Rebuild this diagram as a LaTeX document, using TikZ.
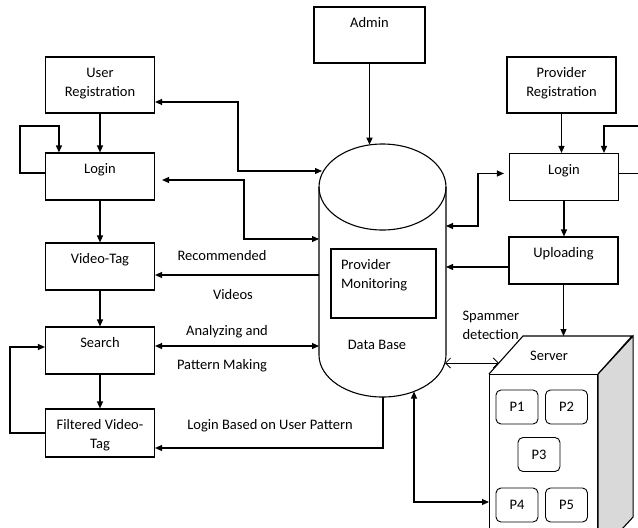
\documentclass[tikz,border=0pt]{standalone}
\usepackage{fontspec}
\setmainfont{Carlito}
\usetikzlibrary{arrows.meta,calc}

\begin{document}
\begin{tikzpicture}[x=1pt,y=-1pt,
font=\fontsize{14.5}{19}\selectfont,
line width=1.1pt,
box/.style={draw,minimum width=109pt,inner xsep=0pt,inner ysep=0pt,align=center,text height=20.5pt,text depth=26.5pt},
tbox/.style={box,text height=39.5pt,text depth=16.5pt},
txt/.style={anchor=base,inner sep=0pt},
proc/.style={draw,rounded corners=5pt,minimum width=42pt,minimum height=34pt,line width=0.9pt},
arr/.style={-{Triangle[length=7pt,width=6pt]}},
dbl/.style={{Triangle[length=7pt,width=6pt]}-{Triangle[length=7pt,width=6pt]}},
spam/.style={line width=0.8pt,{Straight Barb[length=5pt,width=10pt]}-{Straight Barb[length=5pt,width=10pt]}}]
\useasboundingbox (0,0) rectangle (638,528);

% user side
\node[tbox] (ureg) at (100,85) {User\\Registration};
\node[box] (ulogin) at (100,176.5) {Login};
\node[box] (vtag) at (100,266.5) {Video-Tag};
\node[box] (search) at (100,350.5) {Search};
\node[box,text height=39pt,text depth=9pt] (filt) at (100,433) {Filtered Video-\\Tag};

% admin and provider side
\node[box,minimum width=111pt,text depth=35.5pt] (admin) at (369.5,35) {Admin};
\node[tbox] (preg) at (561.5,85) {Provider\\Registration};
\node[box] (plogin) at (564,177) {Login};
\node[box] (upload) at (563.5,260.5) {Uploading};

% data base
\draw (319,187) -- (319,355) arc[start angle=180,end angle=360,x radius=63.5pt,y radius=42pt] -- (446,187);
\draw (382.5,187) ellipse [x radius=63.5pt,y radius=43pt];
\node[draw,align=left,text width=85pt,inner xsep=10pt,inner ysep=0pt,text height=20.5pt,text depth=48.5pt] (pmon) at (383.5,283.5) {Provider\\Monitoring};
\node[txt] (dbt) at (377,349) {Data Base};
\coordinate (dbT) at (369.5,144.7);
\coordinate (dbL1) at (322,171);
\coordinate (dbL2) at (319,239);
\coordinate (dbL3) at (319,275);
\coordinate (dbL4) at (319,346);
\coordinate (dbR1) at (446,226);
\coordinate (dbR2) at (446,267);
\coordinate (dbR3) at (445,363);
\coordinate (dbB1) at (383,397);
\coordinate (dbB2) at (414,391.5);

% server
\node[draw,fill=white,minimum width=108pt,minimum height=180pt,anchor=north west,inner sep=0pt] (server) at (489,374) {};
\draw (server.north west) -- ++(34,-38) -- ++(109,0) -- (server.north east);
\draw[fill=gray!30] (server.north east) -- ++(35,-38) -- ++(0,181) -- ++(-35,38) -- cycle;
\node[txt] (srvt) at (549,360) {Server};
\coordinate (srvtop) at (560,336);
\coordinate (srvL) at (498.8,363);
\node[proc] (p1) at (517,407) {P1};
\node[proc] (p2) at (566.5,407) {P2};
\node[proc] (p3) at (539,454.5) {P3};
\node[proc] (p4) at (517,505) {P4};
\node[proc] (p5) at (566.5,505) {P5};

% labels
\node[txt] (rec) at (222,260) {Recommended};
\node[txt] (vid) at (233,299) {Videos};
\node[txt] (ana) at (227,335) {Analyzing and};
\node[txt] (pat) at (222,369) {Pattern Making};
\node[txt] (lbp) at (270,429) {Login Based on User Pattern};
\node[txt,align=left,anchor=north west] (spamt) at (462,311) {Spammer\\detection};

% connectors
\draw[arr] (ureg) -- (ulogin);
\draw[arr] ([yshift=3.5pt]ulogin.west) -| (20,126) -| ([xshift=14pt]ulogin.north west);
\draw[dbl] ([yshift=-17pt]ureg.east) -| (238,171) -- (dbL1);
\draw[dbl,shorten <=7pt] ([yshift=-3.5pt]ulogin.east) -| (244,239) -- (dbL2);
\draw[arr] (ulogin) -- (vtag);
\draw[arr] (dbL3) -- (dbL3 -| vtag.east);
\draw[arr] (vtag) -- (search);
\draw[dbl] (search.east |- dbL4) -- (dbL4);
\draw[arr] (search) -- (filt);
\draw[arr] (filt.west) -- ++(-35,0) |- ([yshift=3.5pt]search.west);
\draw[arr] (dbB1) |- ([yshift=-15pt]filt.east);
\draw[arr] (admin) -- (dbT);
\draw[arr] (preg.south) -- (preg.south |- plogin.north);
\draw[arr] ([yshift=3.5pt]plogin.east) -| (645,126) -| ([xshift=40pt]plogin.north);
\draw[dbl,shorten >=5pt] (dbR1) -- ++(32,0) |- ([yshift=3.5pt]plogin.west);
\draw[arr] (plogin.south) -- (plogin.south |- upload.north);
\draw[arr] ([yshift=-6.5pt]upload.west) -- (dbR2);
\draw[arr] (upload.south) -- (upload.south |- srvtop);
\draw[spam] (dbR3) -- (srvL);
\draw[dbl] (dbB2) |- ($(server.west |- p4)+(0,-3)$);
\end{tikzpicture}
\end{document}
